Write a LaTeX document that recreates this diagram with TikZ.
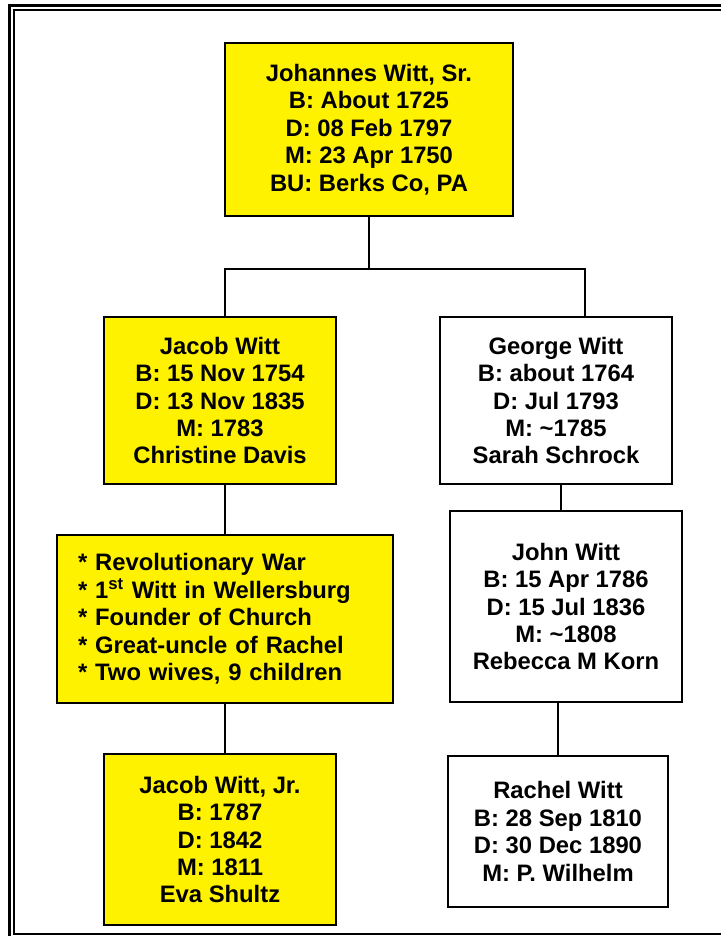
\documentclass[tikz,border=0pt]{standalone}
\usepackage{fontspec}
\setmainfont{Liberation Sans}
\usetikzlibrary{positioning}
\newcommand{\treefont}{\fontsize{17.85}{20.6}\selectfont\bfseries}
\tikzstyle{block} = [rectangle, draw, fill=yellow, line width=1.5pt,
    align=center, font=\treefont, minimum width=174pt]
\tikzstyle{line} = [draw, line width=1pt]

\begin{document}
\begin{tikzpicture}[x=0.75pt, y=-0.75pt]
    \useasboundingbox (0,0) rectangle (721,936);
    \clip (0,0) rectangle (721,936);
    \fill [white] (0,0) rectangle (721,936);
    % Double frame
    \draw [line width=2.25pt] (9.5,5) rectangle (745,950);
    \draw [line width=1.5pt] (14,10) rectangle (740,934);
    % Place nodes
    \node [block, minimum width=216pt, minimum height=129.75pt] (johannes) at (369,129.5)
        {Johannes Witt, Sr.\\ B: About 1725\\ D: 08 Feb 1797\\ M: 23 Apr 1750\\ BU: Berks Co, PA};
    \node [block, minimum height=125.25pt] (jacob) at (220,400.5)
        {Jacob Witt\\ B: 15 Nov 1754\\ D: 13 Nov 1835\\ M: 1783\\ Christine Davis};
    \node [block, minimum width=252pt, minimum height=126pt, text width=220.5pt, align=left,
        below=36.75pt of jacob, xshift=3.75pt] (notes)
        {{*} Revolutionary War\\ {*} 1\textsuperscript{st} Witt in Wellersburg\\ {*} Founder of Church\\
         {*} Great-uncle of Rachel\\ {*} Two wives, 9 children};
    \node [block, minimum height=128.25pt, below=36.75pt of notes, xshift=-3.75pt] (jacobjr)
        {Jacob Witt, Jr.\\ B: 1787\\ D: 1842\\ M: 1811\\ Eva Shultz};
    \node [block, fill=white, minimum height=125.25pt] (george) at (556,400.5)
        {George Witt\\ B: about 1764\\ D: Jul 1793\\ M: \textasciitilde1785\\ Sarah Schrock};
    \node [block, fill=white, minimum height=143.25pt, below=18.75pt of george, xshift=7.5pt] (john)
        {John Witt\\ B: 15 Apr 1786\\ D: 15 Jul 1836\\ M: \textasciitilde1808\\ Rebecca M Korn};
    \node [block, fill=white, minimum width=165pt, minimum height=113.25pt,
        below=39pt of john, xshift=-6pt] (rachel)
        {Rachel Witt\\ B: 28 Sep 1810\\ D: 30 Dec 1890\\ M: P. Wilhelm};
    \coordinate (fork) at (369,269);
    % Draw edges
    \path [line] (johannes.south) -- (fork);
    \path [line] ([xshift=3.75pt]jacob.north) |- (fork) -| ([xshift=21.75pt]george.north);
    \path [line] (notes.north |- jacob.south) -- (notes.north);
    \path [line] (notes.south) -- (notes.south |- jacobjr.north);
    \path [line] ([xshift=3.75pt]george.south) -- ([xshift=-3.75pt]john.north);
    \path [line] (rachel.north |- john.south) -- (rachel.north);
\end{tikzpicture}
\end{document}
